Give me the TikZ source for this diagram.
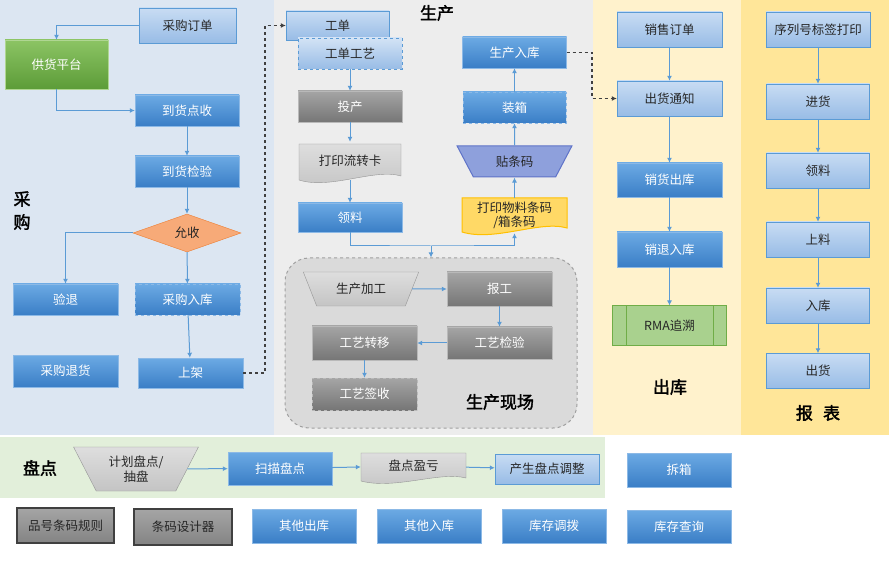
\documentclass[tikz,border=0pt]{standalone}
\usepackage{fontspec}
\setmainfont{Noto Sans CJK SC}
\newfontfamily\brush[FakeBold=2]{Noto Sans CJK SC}
\usepackage{xcolor}
\usepackage{tikz}
\usetikzlibrary{shapes.geometric, arrows.meta, positioning, calc}
\definecolor{buyBg}{RGB}{220,230,242}
\definecolor{makeBg}{RGB}{237,237,237}
\definecolor{outBg}{RGB}{255,242,204}
\definecolor{reportBg}{RGB}{255,230,153}
\definecolor{countBg}{RGB}{226,239,218}
\definecolor{lineblue}{RGB}{91,155,213}
\definecolor{blueTop}{RGB}{108,170,228}
\definecolor{blueBot}{RGB}{58,126,198}
\definecolor{blueEdge}{RGB}{140,185,230}
\definecolor{paleTop}{RGB}{200,220,243}
\definecolor{paleBot}{RGB}{152,188,230}
\definecolor{grayTop}{RGB}{165,165,165}
\definecolor{grayBot}{RGB}{118,118,118}
\definecolor{grayEdge}{RGB}{185,185,185}
\definecolor{lightTop}{RGB}{222,222,222}
\definecolor{lightBot}{RGB}{196,196,196}
\definecolor{lightEdge}{RGB}{150,150,150}
\definecolor{darktext}{RGB}{38,38,38}
\definecolor{darkline}{RGB}{64,64,64}
\definecolor{greenTop}{RGB}{140,196,100}
\definecolor{greenBot}{RGB}{92,156,56}
\definecolor{rmaFill}{RGB}{169,209,142}
\definecolor{rmaEdge}{RGB}{112,173,71}
\definecolor{orangeFill}{RGB}{247,170,120}
\definecolor{orangeEdge}{RGB}{237,125,49}
\definecolor{yellowFill}{RGB}{255,217,102}
\definecolor{yellowEdge}{RGB}{255,192,0}
\definecolor{purpleFill}{RGB}{142,160,220}
\definecolor{purpleEdge}{RGB}{95,115,200}
\definecolor{siteFill}{RGB}{218,218,218}
\definecolor{siteEdge}{RGB}{160,160,160}

\begin{document}
\begin{tikzpicture}[
    x=1pt, y=-1pt,
    box/.style={rectangle, draw, minimum width=104pt, minimum height=31pt, align=center, inner sep=1pt, font=\fontsize{12.5}{14.5}\selectfont},
    bluebox/.style={box, top color=blueTop, bottom color=blueBot, draw=blueEdge, text=white},
    paleblue/.style={box, top color=paleTop, bottom color=paleBot, draw=lineblue, text=darktext},
    darkbox/.style={box, top color=grayTop, bottom color=grayBot, draw=grayEdge, text=white},
    greenbox/.style={box, top color=greenTop, bottom color=greenBot, draw=greenTop!70, text=white},
    rmabox/.style={box, fill=rmaFill, draw=rmaEdge, line width=1pt, text=darktext},
    framebox/.style={box, top color=grayTop, bottom color=grayBot!90, draw=darkline, line width=1.5pt, text=darktext},
    decision/.style={diamond, draw=orangeEdge, fill=orangeFill, minimum width=108pt, minimum height=38pt, aspect=2.8, inner sep=0pt, text=darktext, font=\fontsize{12.5}{14.5}\selectfont},
    funnel/.style={trapezium, trapezium angle=60, shape border rotate=180, trapezium stretches=true, draw, inner sep=1pt, align=center, text=darktext, font=\fontsize{12.5}{14.5}\selectfont},
    docgray/.style={draw=lightEdge, top color=lightTop, bottom color=lightBot},
    docyellow/.style={draw=yellowEdge, fill=yellowFill, line width=1pt},
    doctext/.style={align=center, inner sep=0pt, text=darktext, font=\fontsize{12.5}{14.5}\selectfont},
    site/.style={rectangle, rounded corners=24pt, draw=siteEdge, dashed, line width=1pt, fill=siteFill},
    arrow/.style={-{Latex[length=5pt, width=5pt]}, draw=lineblue, line width=1pt},
    dasharrow/.style={-{Latex[length=5pt, width=5pt]}, draw=darkline, dashed, line width=1.2pt},
    title/.style={text=black, font=\brush\fontsize{17}{17}\selectfont}
]
\useasboundingbox (0,0) rectangle (889,561);
\fill[white] (0,0) rectangle (889,561);

% Panels
\fill[buyBg] (0,0) rectangle (274,435);
\fill[makeBg] (274,0) rectangle (593,435);
\fill[outBg] (593,0) rectangle (741,435);
\fill[reportBg] (741,0) rectangle (889,435);
\fill[countBg] (0,437) rectangle (605,498);

% Purchasing
\node[title] (tBuy1) at (22,199) {采};
\node[title] (tBuy2) at (22,222) {购};
\node[paleblue, minimum width=97pt, minimum height=35pt] (po) at (187.5,25.5) {采购订单};
\node[greenbox, minimum width=103pt, minimum height=49pt] (supply) at (56.5,64.5) {供货平台};
\node[bluebox] (recv) at (187,110.5) {到货点收};
\node[bluebox] (insp) at (187,171.5) {到货检验};
\node[decision] (accept) at (187,233) {允收};
\node[bluebox, minimum width=105pt] (reject) at (65.5,299.5) {验退};
\node[bluebox, minimum width=105pt, dashed] (pin) at (187.5,299.5) {采购入库};
\node[bluebox, minimum width=105pt, minimum height=30pt] (shelf) at (190.5,373) {上架};
\node[bluebox, minimum width=105pt, minimum height=32pt] (pret) at (65.5,371) {采购退货};

\draw[arrow] (po.west) -| (supply.north);
\draw[arrow] (supply.south) |- (recv.west);
\draw[arrow] (recv) -- (insp);
\draw[arrow] (insp) -- (accept);
\draw[arrow] (accept.west) -| (reject.north);
\draw[arrow] (accept) -- (pin);
\draw[arrow] (pin) -- (shelf);

% Production
\node[title] (tMake) at (437,13) {生产};
\node[paleblue, minimum width=103pt, minimum height=29pt] (wo) at (337.5,25.5) {工单};
\node[paleblue, dashed, top color=paleTop!80!white] (wop) at (350,53.5) {工单工艺};
\node[darkbox] (feed) at (350,106.5) {投产};
\draw[docgray] (299,144) -- (401,144) -- (401,176) .. controls (375,168) and (330,190) .. (299,180) -- cycle;
\node[doctext, minimum width=102pt, minimum height=38pt] (card) at (350,161) {打印流转卡};
\node[bluebox, minimum height=29pt] (mat) at (350,217.5) {领料};
\draw[docyellow] (462,198) -- (567,198) -- (567,228) .. controls (540,220) and (495,242) .. (462,232) -- cycle;
\node[doctext, minimum width=105pt, minimum height=35pt] (lbl) at (514.5,215.5) {打印物料条码\\/箱条码};
\node[funnel, fill=purpleFill, draw=purpleEdge, line width=1pt, minimum width=115pt, minimum height=31pt] (stick) at (514.5,161.5) {贴条码};
\node[bluebox, minimum width=103pt, dashed] (pack) at (514.5,107.5) {装箱};
\node[bluebox] (pstore) at (514.5,52.5) {生产入库};
\coordinate (split) at (431,246);

\draw[arrow] (wop) -- (feed);
\draw[arrow] (feed) -- (card);
\draw[arrow] (card) -- (mat);
\draw[arrow] (mat.south) |- (split) -| (lbl.south);
\draw[arrow] (lbl) -- (stick);
\draw[arrow] (stick) -- (pack);
\draw[arrow] (pack) -- (pstore);

% Shop floor
\node[site, minimum width=292pt, minimum height=170pt] (floor) at (431,343) {};
\node[title] (tFloor) at (500,402) {生产现场};
\node[funnel, top color=lightTop, bottom color=lightBot, draw=lightEdge, minimum width=116pt, minimum height=34pt] (proc) at (361,289) {生产加工};
\node[darkbox, minimum width=105pt, minimum height=34pt] (report) at (499.5,289) {报工};
\node[darkbox, minimum width=105pt, minimum height=32pt] (qc) at (499.5,343) {工艺检验};
\node[darkbox, minimum width=105pt, minimum height=34pt] (move) at (364.5,343) {工艺转移};
\node[darkbox, minimum width=105pt, minimum height=32pt, dashed] (sign) at (364.5,394) {工艺签收};

\draw[arrow] (split) -- (floor);
\draw[arrow] (proc) -- (report);
\draw[arrow] (report) -- (qc);
\draw[arrow] (qc) -- (move);
\draw[arrow] (move) -- (sign);

% Outbound
\node[title] (tOut) at (670,387) {出库};
\node[paleblue, minimum width=105pt, minimum height=35pt] (so) at (669.5,29.5) {销售订单};
\node[paleblue, minimum width=105pt, minimum height=35pt] (ship) at (669.5,98.5) {出货通知};
\node[bluebox, minimum width=105pt, minimum height=34pt] (sout) at (669.5,180) {销货出库};
\node[bluebox, minimum width=105pt, minimum height=35pt] (sret) at (669.5,249.5) {销退入库};
\node[rmabox, minimum width=114pt, minimum height=40pt] (rma) at (669.5,326) {RMA追溯};
\draw[draw=rmaEdge, line width=1pt] ([xshift=14pt]rma.north west) -- ([xshift=14pt]rma.south west);
\draw[draw=rmaEdge, line width=1pt] ([xshift=-14pt]rma.north east) -- ([xshift=-14pt]rma.south east);

\draw[arrow] (so) -- (ship);
\draw[arrow] (ship) -- (sout);
\draw[arrow] (sout) -- (sret);
\draw[arrow] (sret) -- (rma);

% Reports
\node[title] (tReport) at (818,413) {报\hspace{0.6em}表};
\node[paleblue, minimum height=35pt] (serial) at (818,29.5) {序列号标签打印};
\node[paleblue, minimum width=103pt, minimum height=35pt] (rin) at (818,101.5) {进货};
\node[paleblue, minimum width=103pt, minimum height=35pt] (rmat) at (818,170.5) {领料};
\node[paleblue, minimum width=103pt, minimum height=35pt] (rload) at (818,239.5) {上料};
\node[paleblue, minimum width=103pt, minimum height=35pt] (rstore) at (818,305.5) {入库};
\node[paleblue, minimum width=103pt, minimum height=35pt] (rout) at (818,371) {出货};

\draw[arrow] (serial) -- (rin);
\draw[arrow] (rin) -- (rmat);
\draw[arrow] (rmat) -- (rload);
\draw[arrow] (rload) -- (rstore);
\draw[arrow] (rstore) -- (rout);

% Links between areas
\coordinate (c1) at (265,373);
\coordinate (c2) at (592,52.5);
\draw[dasharrow] (shelf.east) -- (c1) |- (wo.west);
\draw[dasharrow] (pstore.east) -- (c2) |- (ship.west);

% Stocktaking
\node[title] (tCount) at (40,468) {盘点};
\node[funnel, top color=lightTop, bottom color=lightBot, draw=lightEdge, minimum width=126pt, minimum height=44pt] (plan) at (136,469) {计划盘点/\\抽盘};
\node[bluebox, minimum height=33pt] (scan) at (280,468.5) {扫描盘点};
\draw[docgray] (361,453) -- (466,453) -- (466,478) .. controls (440,471) and (395,490) .. (361,481) -- cycle;
\node[doctext, minimum width=105pt, minimum height=30pt] (diff) at (413.5,466) {盘点盈亏};
\node[paleblue, minimum height=30pt] (adj) at (547,469) {产生盘点调整};
\node[bluebox, minimum height=34pt] (unpack) at (679,470) {拆箱};

\draw[arrow] (plan) -- (scan);
\draw[arrow] (scan) -- (diff);
\draw[arrow] (diff) -- (adj);

% Bottom row
\node[framebox, minimum width=97pt, minimum height=35pt] (rule) at (65.5,525.5) {品号条码规则};
\node[framebox, minimum width=98pt, minimum height=36pt] (designer) at (183,527) {条码设计器};
\node[bluebox, minimum height=34pt] (oout) at (304,526) {其他出库};
\node[bluebox, minimum height=34pt] (oin) at (429,526) {其他入库};
\node[bluebox, minimum height=34pt] (trans) at (554,526) {库存调拨};
\node[bluebox, minimum height=33pt] (query) at (679,526.5) {库存查询};

\end{tikzpicture}
\end{document}
